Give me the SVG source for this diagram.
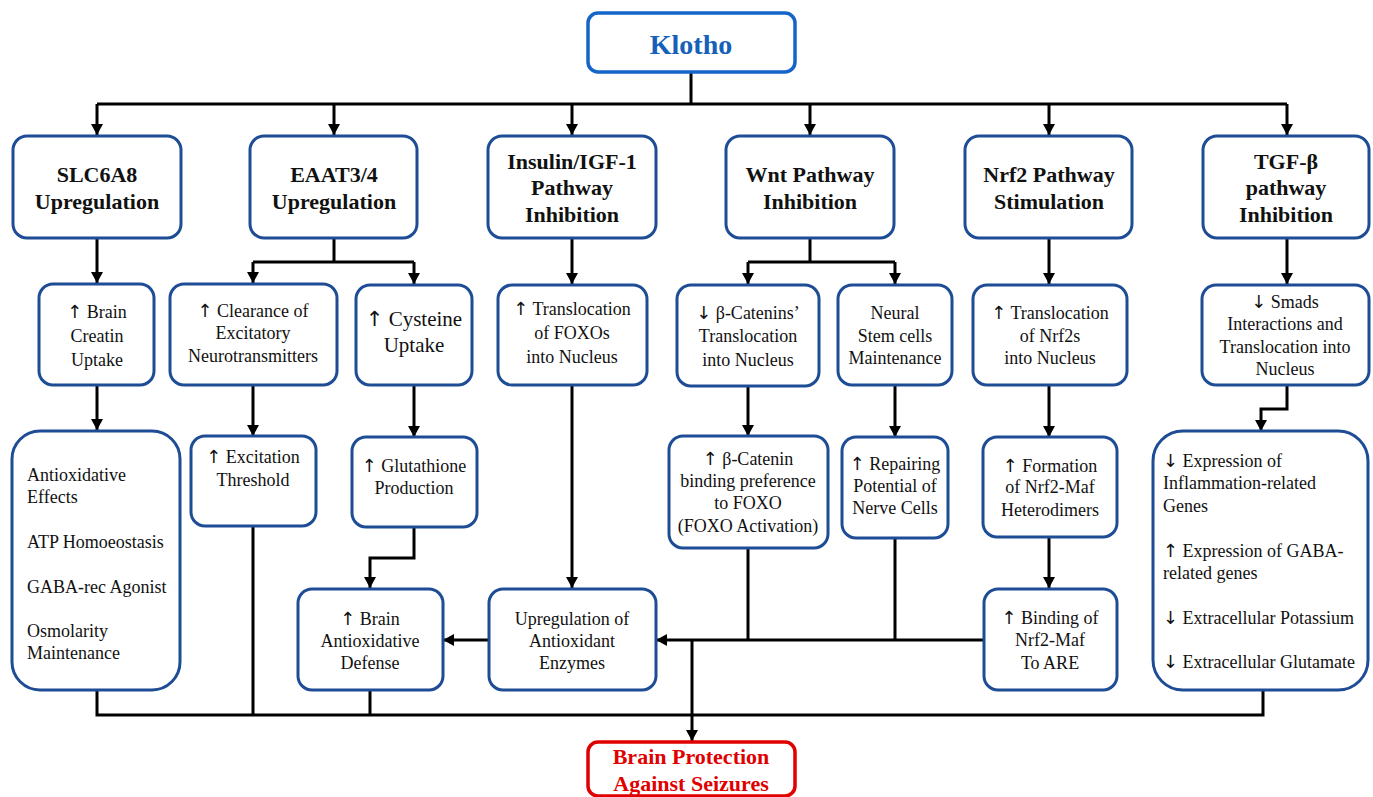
<svg xmlns="http://www.w3.org/2000/svg" width="1373" height="797" viewBox="0 0 1373 797">
<defs>
<marker id="ah" markerUnits="userSpaceOnUse" markerWidth="11" markerHeight="12" viewBox="0 0 11 12" refX="11" refY="6" orient="auto">
<path d="M0,0 L11,6 L0,12 z" fill="#000"/>
</marker>
</defs>
<style>
.box{fill:#fff;stroke:#1E4D95;stroke-width:3}
.top{fill:#fff;stroke:#1565C8;stroke-width:3.5}
.end{fill:#fff;stroke:#E00000;stroke-width:3.5}
.ln{fill:none;stroke:#000;stroke-width:3}
.ar{fill:none;stroke:#000;stroke-width:3;marker-end:url(#ah)}
text{font-family:'Liberation Serif',Tinos,'DejaVu Serif',serif;fill:#111}
.a{font-family:'DejaVu Sans','Liberation Sans',sans-serif;fill:#111}
.t{font-size:22px;font-weight:bold;text-anchor:middle}
.b{font-size:18px;text-anchor:middle}
.bl{font-size:18px}
.c{font-size:21px;text-anchor:middle}
</style>
<rect width="1373" height="797" fill="#fff"/>

<g id="connectors">
<path class="ln" d="M691,73 V104 M97,104 H1287"/>
<path class="ar" d="M97,104 V135"/>
<path class="ar" d="M334,104 V135"/>
<path class="ar" d="M572,104 V135"/>
<path class="ar" d="M810,104 V135"/>
<path class="ar" d="M1049,104 V135"/>
<path class="ar" d="M1287,104 V135"/>
<path class="ar" d="M97,238 V283"/>
<path class="ln" d="M334,238 V262 M253,262 H414"/>
<path class="ar" d="M253,262 V283"/>
<path class="ar" d="M414,262 V284"/>
<path class="ar" d="M572,238 V284"/>
<path class="ln" d="M810,238 V262 M748,262 H895"/>
<path class="ar" d="M748,262 V284"/>
<path class="ar" d="M895,262 V284"/>
<path class="ar" d="M1049,238 V284"/>
<path class="ar" d="M1287,238 V284"/>
<path class="ar" d="M97,386 V430"/>
<path class="ar" d="M253,386 V436"/>
<path class="ar" d="M414,386 V437"/>
<path class="ar" d="M572,386 V588"/>
<path class="ar" d="M748,387 V436"/>
<path class="ar" d="M895,386 V437"/>
<path class="ar" d="M1049,386 V437"/>
<path class="ar" d="M1049,537 V588"/>
<path class="ar" d="M1287,386 V409 H1261 V431"/>
<path class="ar" d="M414,527 V558 H370 V588"/>
<path class="ar" d="M489,640 H443"/>
<path class="ar" d="M984,640 H656"/>
<path class="ln" d="M748,548 V640 M895,538 V640"/>
<path class="ar" d="M692,640 V741"/>
<path class="ln" d="M97,691 V715 H1263 V691 M253,526 V715 M370,691 V715"/>
</g>

<g id="klotho">
<rect class="top" x="588" y="13" width="207" height="59" rx="10"/>
<text x="691" y="54" style="font-size:28px;font-weight:bold;fill:#1560B8;text-anchor:middle">Klotho</text>
</g>

<g id="slc6a8">
<rect class="box" x="13" y="136" width="168" height="102" rx="14"/>
<text class="t" x="97" y="182">SLC6A8</text>
<text class="t" x="97" y="209">Upregulation</text>
</g>
<g id="eaat">
<rect class="box" x="250" y="136" width="167" height="102" rx="14"/>
<text class="t" x="334" y="182">EAAT3/4</text>
<text class="t" x="334" y="209">Upregulation</text>
</g>
<g id="insulin">
<rect class="box" x="488" y="136" width="168" height="102" rx="14"/>
<text class="t" x="572" y="169">Insulin/IGF-1</text>
<text class="t" x="572" y="195">Pathway</text>
<text class="t" x="572" y="222">Inhibition</text>
</g>
<g id="wnt">
<rect class="box" x="726" y="136" width="168" height="102" rx="14"/>
<text class="t" x="810" y="182">Wnt Pathway</text>
<text class="t" x="810" y="209">Inhibition</text>
</g>
<g id="nrf2">
<rect class="box" x="965" y="136" width="167" height="102" rx="14"/>
<text class="t" x="1049" y="182">Nrf2 Pathway</text>
<text class="t" x="1049" y="209">Stimulation</text>
</g>
<g id="tgf">
<rect class="box" x="1203" y="136" width="166" height="102" rx="14"/>
<text class="t" x="1286" y="169">TGF-β</text>
<text class="t" x="1286" y="195">pathway</text>
<text class="t" x="1286" y="222">Inhibition</text>
</g>

<g id="creatin">
<rect class="box" x="39" y="284" width="115" height="101" rx="14"/>
<text class="b" x="97" y="318"><tspan class="a">↑</tspan> Brain</text>
<text class="b" x="97" y="342">Creatin</text>
<text class="b" x="97" y="366">Uptake</text>
</g>
<g id="clearance">
<rect class="box" x="170" y="284" width="167" height="101" rx="14"/>
<text class="b" x="253" y="317"><tspan class="a">↑</tspan> Clearance of</text>
<text class="b" x="253" y="339">Excitatory</text>
<text class="b" x="253" y="362">Neurotransmitters</text>
</g>
<g id="cysteine">
<rect class="box" x="356" y="285" width="116" height="100" rx="14"/>
<text class="c" x="414" y="326"><tspan class="a">↑</tspan> Cysteine</text>
<text class="c" x="414" y="352">Uptake</text>
</g>
<g id="foxo">
<rect class="box" x="498" y="285" width="149" height="100" rx="14"/>
<text class="b" x="572" y="315"><tspan class="a">↑</tspan> Translocation</text>
<text class="b" x="572" y="339">of FOXOs</text>
<text class="b" x="572" y="363">into Nucleus</text>
</g>
<g id="bcatenins">
<rect class="box" x="677" y="285" width="142" height="101" rx="14"/>
<text class="b" x="748" y="319"><tspan class="a">↓</tspan> β-Catenins’</text>
<text class="b" x="748" y="342">Translocation</text>
<text class="b" x="748" y="366">into Nucleus</text>
</g>
<g id="neural">
<rect class="box" x="838" y="285" width="114" height="100" rx="14"/>
<text class="b" x="895" y="319">Neural</text>
<text class="b" x="895" y="342">Stem cells</text>
<text class="b" x="895" y="364">Maintenance</text>
</g>
<g id="nrf2s">
<rect class="box" x="973" y="285" width="154" height="100" rx="14"/>
<text class="b" x="1050" y="319"><tspan class="a">↑</tspan> Translocation</text>
<text class="b" x="1050" y="342">of Nrf2s</text>
<text class="b" x="1050" y="364">into Nucleus</text>
</g>
<g id="smads">
<rect class="box" x="1202" y="285" width="167" height="100" rx="14"/>
<text class="b" x="1285" y="308"><tspan class="a">↓</tspan> Smads</text>
<text class="b" x="1285" y="330">Interactions and</text>
<text class="b" x="1285" y="353">Translocation into</text>
<text class="b" x="1285" y="375">Nucleus</text>
</g>

<g id="leftlist">
<rect class="box" x="12" y="431" width="168" height="259" rx="28"/>
<text class="bl" x="27" y="481">Antioxidative</text>
<text class="bl" x="27" y="503">Effects</text>
<text class="bl" x="27" y="548">ATP Homoeostasis</text>
<text class="bl" x="27" y="593">GABA-rec Agonist</text>
<text class="bl" x="27" y="637">Osmolarity</text>
<text class="bl" x="27" y="659">Maintenance</text>
</g>
<g id="excitation">
<rect class="box" x="191" y="436" width="125" height="90" rx="14"/>
<text class="b" x="253" y="463"><tspan class="a">↑</tspan> Excitation</text>
<text class="b" x="253" y="486">Threshold</text>
</g>
<g id="glutathione">
<rect class="box" x="352" y="437" width="125" height="90" rx="14"/>
<text class="b" x="414" y="472"><tspan class="a">↑</tspan> Glutathione</text>
<text class="b" x="414" y="494">Production</text>
</g>
<g id="bcateninbinding">
<rect class="box" x="669" y="436" width="159" height="112" rx="14"/>
<text class="b" x="748" y="465"><tspan class="a">↑</tspan> β-Catenin</text>
<text class="b" x="748" y="487">binding preference</text>
<text class="b" x="748" y="509">to FOXO</text>
<text class="b" x="748" y="532">(FOXO Activation)</text>
</g>
<g id="repairing">
<rect class="box" x="842" y="437" width="106" height="101" rx="14"/>
<text class="b" x="895" y="470"><tspan class="a">↑</tspan> Repairing</text>
<text class="b" x="895" y="492">Potential of</text>
<text class="b" x="895" y="514">Nerve Cells</text>
</g>
<g id="formation">
<rect class="box" x="983" y="437" width="134" height="100" rx="14"/>
<text class="b" x="1050" y="472"><tspan class="a">↑</tspan> Formation</text>
<text class="b" x="1050" y="493">of Nrf2-Maf</text>
<text class="b" x="1050" y="516">Heterodimers</text>
</g>
<g id="rightlist">
<rect class="box" x="1153" y="431" width="215" height="259" rx="30"/>
<text class="bl" x="1163" y="467"><tspan class="a">↓</tspan> Expression of</text>
<text class="bl" x="1163" y="489">Inflammation-related</text>
<text class="bl" x="1163" y="512">Genes</text>
<text class="bl" x="1163" y="557"><tspan class="a">↑</tspan> Expression of GABA-</text>
<text class="bl" x="1163" y="579">related genes</text>
<text class="bl" x="1163" y="624"><tspan class="a">↓</tspan> Extracellular Potassium</text>
<text class="bl" x="1163" y="668"><tspan class="a">↓</tspan> Extracellular Glutamate</text>
</g>

<g id="brainantiox">
<rect class="box" x="298" y="589" width="145" height="101" rx="14"/>
<text class="b" x="370" y="625"><tspan class="a">↑</tspan> Brain</text>
<text class="b" x="370" y="647">Antioxidative</text>
<text class="b" x="370" y="669">Defense</text>
</g>
<g id="upregulation">
<rect class="box" x="489" y="589" width="167" height="101" rx="14"/>
<text class="b" x="572" y="625">Upregulation of</text>
<text class="b" x="572" y="647">Antioxidant</text>
<text class="b" x="572" y="669">Enzymes</text>
</g>
<g id="bindingare">
<rect class="box" x="984" y="589" width="133" height="101" rx="14"/>
<text class="b" x="1050" y="624"><tspan class="a">↑</tspan> Binding of</text>
<text class="b" x="1050" y="646">Nrf2-Maf</text>
<text class="b" x="1050" y="669">To ARE</text>
</g>

<g id="protection">
<rect class="end" x="588" y="742" width="207" height="54" rx="10"/>
<text x="691" y="764" style="font-size:22px;font-weight:bold;fill:#E00000;text-anchor:middle">Brain Protection</text>
<text x="691" y="791" style="font-size:22px;font-weight:bold;fill:#E00000;text-anchor:middle">Against Seizures</text>
</g>
</svg>
